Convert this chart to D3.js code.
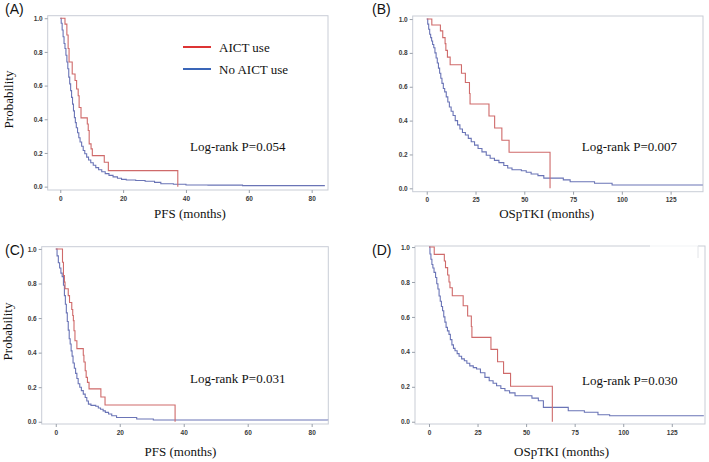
<!DOCTYPE html>
<html>
<head>
<meta charset="utf-8">
<script src="https://cdn.jsdelivr.net/npm/d3@7"></script>
<style>
  body { margin: 0; background: #fff; }
  svg { display: block; }
</style>
</head>
<body>
<div id="chart"></div>
<script>
// Tick values
const pfsTicks = [0, 20, 40, 60, 80];
const osTicks = [0, 25, 50, 75, 100, 125];
const probTicks = [0, 0.2, 0.4, 0.6, 0.8, 1.0];

// Series names
const seriesNames = ["AICT use", "No AICT use"];

// Kaplan-Meier steps: [months, survival probability]
// (A) PFS
const pfsAictA = [[0,1],[1.5,0.965],[2.1,0.9],[2.5,0.82],[2.8,0.74],[3.8,0.669],[4.7,0.63],[5.2,0.58],[5.7,0.54],[6.0,0.47],[6.6,0.408],
  [8.6,0.372],[8.9,0.333],[9.2,0.254],[9.8,0.224],[10.2,0.184],[14.0,0.145],[15.3,0.095],[37.4,0]];
const pfsNoAictA = [[0,1],[0.3,0.97],[0.6,0.93],[0.9,0.89],[1.2,0.85],[1.5,0.82],[1.8,0.78],[2.1,0.74],[2.4,0.70],[2.7,0.65],[3.0,0.61],
  [3.3,0.57],[3.6,0.53],[3.9,0.49],[4.2,0.45],[4.5,0.41],[4.8,0.38],[5.1,0.35],[5.5,0.32],[5.9,0.29],[6.3,0.265],[6.8,0.24],
  [7.3,0.215],[7.8,0.195],[8.4,0.175],[9.0,0.158],[9.7,0.142],[10.5,0.127],[11.3,0.113],[12.2,0.1],[13.2,0.088],[14.3,0.077],
  [15.5,0.067],[16.8,0.058],[18.2,0.05],[19.5,0.043],[21,0.039],[24,0.036],[27,0.032],[30,0.025],[32,0.017],[36,0.014],
  [40,0.01],[47,0.009],[58,0.006],[84.2,0.006]];

// (B) OSpTKI
const osAictB = [[0,1],[2.6,0.965],[7.0,0.93],[8.2,0.89],[9.4,0.855],[9.8,0.815],[10.6,0.775],[12.0,0.73],[17.8,0.68],[19.8,0.625],
  [21.9,0.56],[22.2,0.498],[31.9,0.427],[34.8,0.356],[38.5,0.284],[42.2,0.213],[63.2,0]];
const osNoAictB = [[0,1],[0.5,0.97],[1.0,0.94],[1.5,0.91],[2.0,0.89],[2.5,0.87],[3.0,0.85],[3.6,0.83],[4.2,0.8],[4.8,0.77],[5.4,0.74],
  [6.0,0.71],[6.6,0.68],[7.2,0.65],[7.8,0.62],[8.5,0.59],[9.2,0.57],[10.0,0.54],[10.8,0.51],[11.6,0.48],[12.5,0.455],[13.5,0.43],
  [14.6,0.4],[15.8,0.375],[17.0,0.35],[18.3,0.33],[19.8,0.315],[21.3,0.295],[22.8,0.275],[24.5,0.255],[26.3,0.235],[28.3,0.215],
  [30.5,0.195],[32.5,0.178],[34.7,0.165],[37.0,0.152],[39.5,0.135],[41.5,0.12],[43.7,0.11],[48.5,0.104],[51,0.095],[53.5,0.085],
  [57,0.075],[60,0.06],[70,0.05],[73.5,0.039],[86,0.03],[95,0.02],[141.5,0.02]];

// (C) PFS
const pfsAictC = [[0,1],[2.1,0.923],[2.4,0.846],[2.7,0.808],[2.9,0.77],[3.9,0.73],[4.3,0.69],[5.0,0.65],[5.3,0.615],[5.5,0.585],
  [5.7,0.527],[6.0,0.469],[6.6,0.423],[8.6,0.385],[8.8,0.346],[9.2,0.295],[9.5,0.257],[9.9,0.228],[10.4,0.19],[14.1,0.143],
  [15.4,0.097],[37.3,0]];
const pfsNoAictC = [[0,1],[0.4,0.96],[0.8,0.92],[1.2,0.89],[1.6,0.86],[2.0,0.84],[2.4,0.79],[2.7,0.73],[3.0,0.68],[3.3,0.63],
  [3.6,0.58],[3.9,0.53],[4.2,0.48],[4.5,0.45],[4.8,0.41],[5.1,0.38],[5.4,0.34],[5.8,0.31],[6.2,0.28],[6.6,0.25],[7.0,0.22],
  [7.5,0.2],[8.0,0.18],[8.6,0.16],[9.2,0.14],[9.7,0.12],[10.2,0.102],[11.0,0.095],[12.5,0.09],[13.3,0.08],[14.0,0.072],
  [14.8,0.063],[15.5,0.054],[16.5,0.045],[17.5,0.035],[19,0.025],[25.3,0.016],[30.5,0.01],[85,0.008]];

// (D) OSpTKI
const osAictD = [[0,1],[2.7,0.958],[7.9,0.92],[8.5,0.882],[9.6,0.84],[10.3,0.8],[10.8,0.767],[12.0,0.721],[17.6,0.664],[19.9,0.605],
  [21.8,0.545],[22.1,0.483],[31.9,0.414],[35.3,0.343],[38.4,0.277],[42.0,0.203],[63.5,0]];
const osNoAictD = [[0,1],[0.5,0.96],[1.0,0.93],[1.5,0.9],[2.0,0.88],[2.6,0.855],[3.4,0.826],[4.0,0.79],[4.6,0.76],[5.2,0.72],
  [5.8,0.69],[6.4,0.66],[7.0,0.635],[7.6,0.6],[8.2,0.57],[8.8,0.54],[9.5,0.52],[10.3,0.5],[11.0,0.47],[11.8,0.44],[12.6,0.42],
  [13.4,0.406],[14.5,0.39],[15.5,0.375],[16.8,0.36],[18.2,0.349],[19.5,0.335],[21,0.32],[22.8,0.31],[24.5,0.302],[26.5,0.28],
  [28.8,0.254],[31,0.235],[33,0.22],[34.8,0.206],[37,0.19],[39.1,0.177],[41.5,0.165],[44.3,0.149],[53,0.135],[56.3,0.12],
  [58.9,0.082],[71.7,0.063],[80,0.054],[87,0.04],[93,0.034],[141.5,0.034]];

const pValues = ["Log-rank P=0.054", "Log-rank P=0.007", "Log-rank P=0.031", "Log-rank P=0.030"];

// Colours
const redCurve = "#cf6a6a", blueCurve = "#6a74b6";
const redLegend = "#dd3434", blueLegend = "#3a66b8";
const frameColor = "#c9cdd6";
const serif = "'Liberation Serif', 'Times New Roman', serif";
const sans = "'Liberation Sans', Arial, sans-serif";

const width = 709, height = 462;
const svg = d3.select("#chart").append("svg")
  .attr("width", width)
  .attr("height", height);

// Panel layout (plot frames in pixels)
const panels = [
  { tag: "(A)", tagX: 5, tagY: 14, box: {left: 47.7, top: 15.7, right: 328, bottom: 190},
    xDomain: [-4.0, 85.2], yDomain: [-0.02, 1.015], ticks: pfsTicks, title: "PFS (months)",
    titleX: 190, titleY: 218, pX: 190, pY: 151, yLabel: true, yLabelX: 13, yLabelY: 99.5,
    red: pfsAictA, blue: pfsNoAictA, p: pValues[0], legend: true },
  { tag: "(B)", tagX: 372, tagY: 14, box: {left: 412.7, top: 16, right: 703, bottom: 191.7},
    xDomain: [-7.2, 141.6], yDomain: [-0.02, 1.018], ticks: osTicks, title: "OSpTKI (months)",
    titleX: 546.7, titleY: 218, pX: 581.7, pY: 151, yLabel: false,
    red: osAictB, blue: osNoAictB, p: pValues[1] },
  { tag: "(C)", tagX: 5, tagY: 255, box: {left: 41.7, top: 246.7, right: 328.3, bottom: 424},
    xDomain: [-4.4, 85.2], yDomain: [-0.013, 1.013], ticks: pfsTicks, title: "PFS (months)",
    titleX: 180.5, titleY: 456, pX: 190, pY: 383, yLabel: true, yLabelX: 11.5, yLabelY: 331.5,
    red: pfsAictC, blue: pfsNoAictC, p: pValues[2] },
  { tag: "(D)", tagX: 372, tagY: 255, box: {left: 415, top: 246, right: 705, bottom: 424},
    xDomain: [-7.2, 142.1], yDomain: [-0.013, 1.006], ticks: osTicks, title: "OSpTKI (months)",
    titleX: 561.5, titleY: 456, pX: 582, pY: 385, yLabel: false,
    red: osAictD, blue: osNoAictD, p: pValues[3] }
];

panels.forEach(p => {
  const b = p.box;
  const x = d3.scaleLinear().domain(p.xDomain).range([b.left, b.right]);
  const y = d3.scaleLinear().domain(p.yDomain).range([b.bottom, b.top]);

  // Frame
  svg.append("rect")
    .attr("x", b.left).attr("y", b.top)
    .attr("width", b.right - b.left).attr("height", b.bottom - b.top)
    .attr("fill", "none").attr("stroke", frameColor).attr("stroke-width", 1);

  // Axes
  const gx = svg.append("g")
    .attr("transform", `translate(0,${b.bottom})`)
    .call(d3.axisBottom(x).tickValues(p.ticks).tickSize(3).tickPadding(3).tickFormat(d3.format("d")));
  const gy = svg.append("g")
    .attr("transform", `translate(${b.left},0)`)
    .call(d3.axisLeft(y).tickValues(probTicks).tickSize(3).tickPadding(2).tickFormat(d3.format(".1f")));
  [gx, gy].forEach(g => {
    g.select(".domain").remove();
    g.selectAll(".tick line").attr("stroke", "#9aa0aa");
    g.selectAll(".tick text")
      .attr("fill", "#3a3a3a")
      .style("font-family", sans)
      .style("font-size", "6.5px")
      .style("font-weight", "bold");
  });

  // Curves
  const line = d3.line()
    .x(d => x(d[0]))
    .y(d => y(d[1]))
    .curve(d3.curveStepAfter);

  svg.append("path")
    .datum(p.blue)
    .attr("fill", "none")
    .attr("stroke", blueCurve)
    .attr("stroke-width", 1.1)
    .attr("d", line);

  svg.append("path")
    .datum(p.red)
    .attr("fill", "none")
    .attr("stroke", redCurve)
    .attr("stroke-width", 1.1)
    .attr("d", line);

  // Panel tag
  svg.append("text")
    .attr("x", p.tagX).attr("y", p.tagY)
    .style("font-family", sans).style("font-size", "14px")
    .attr("fill", "#111")
    .text(p.tag);

  // X title
  svg.append("text")
    .attr("x", p.titleX).attr("y", p.titleY)
    .attr("text-anchor", "middle")
    .style("font-family", serif).style("font-size", "13px")
    .attr("fill", "#111")
    .text(p.title);

  // Y title
  if (p.yLabel) {
    svg.append("text")
      .attr("transform", `translate(${p.yLabelX},${p.yLabelY}) rotate(-90)`)
      .attr("text-anchor", "middle")
      .style("font-family", serif).style("font-size", "13px")
      .attr("fill", "#111")
      .text("Probability");
  }

  // Log-rank text
  svg.append("text")
    .attr("x", p.pX).attr("y", p.pY)
    .style("font-family", serif).style("font-size", "13px")
    .attr("fill", "#111")
    .text(p.p);

  // Legend (panel A only)
  if (p.legend) {
    const legendColors = [redLegend, blueLegend];
    seriesNames.forEach((name, i) => {
      const ly = 47 + i * 22;
      svg.append("line")
        .attr("x1", 183).attr("x2", 211)
        .attr("y1", ly).attr("y2", ly)
        .attr("stroke", legendColors[i]).attr("stroke-width", 2);
      svg.append("text")
        .attr("x", 219).attr("y", ly + 4.5)
        .style("font-family", serif).style("font-size", "13px")
        .attr("fill", "#111")
        .text(name);
    });
  }
});

// Leftover legend-box edge seen in panel D's corner
svg.append("line")
  .attr("x1", 650).attr("x2", 698).attr("y1", 246).attr("y2", 246)
  .attr("stroke", "#fff").attr("stroke-width", 1.5);
svg.append("line")
  .attr("x1", 698).attr("x2", 698).attr("y1", 246).attr("y2", 258)
  .attr("stroke", "#e2e4e8").attr("stroke-width", 1);
</script>
</body>
</html>
